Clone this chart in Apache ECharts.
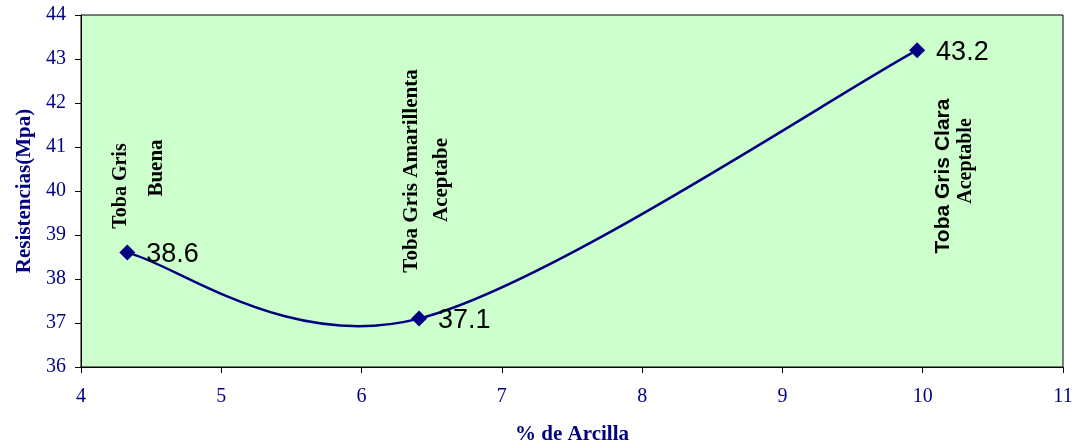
<!DOCTYPE html>
<html>
<head>
<meta charset="utf-8">
<script src="https://cdn.jsdelivr.net/npm/echarts@6/dist/echarts.min.js"></script>
<style>
  html, body { margin: 0; padding: 0; background: #fff; }
  #chart { width: 1074px; height: 446px; }
</style>
</head>
<body>
<div id="chart"></div>
<script>
// Clay content (%) and measured strength (MPa) for each tuff sample
const clayPct = [4.33, 6.41, 9.96];
const strength = [38.6, 37.1, 43.2];
const xTicks = [4, 5, 6, 7, 8, 9, 10, 11];
const yTicks = [36, 37, 38, 39, 40, 41, 42, 43, 44];

const NAVY = '#000080';
const SERIF = '"Liberation Serif", "Times New Roman", serif';
const SANS = '"Liberation Sans", Arial, sans-serif';

const points = clayPct.map((x, i) => [x, strength[i]]);

// Smoothed connecting curve: cubic Bezier segments whose control points
// follow the Catmull-Rom rule (neighbour difference / 6), end points repeated.
function renderCurve(params, api) {
  const i = params.dataIndex;
  const n = points.length;
  if (i >= n - 1) return null;
  const P = k => api.coord(points[Math.max(0, Math.min(n - 1, k))]);
  const p0 = P(i - 1), p1 = P(i), p2 = P(i + 1), p3 = P(i + 2);
  return {
    type: 'bezierCurve',
    shape: {
      x1: p1[0], y1: p1[1],
      cpx1: p1[0] + (p2[0] - p0[0]) / 6,
      cpy1: p1[1] + (p2[1] - p0[1]) / 6,
      cpx2: p2[0] - (p3[0] - p1[0]) / 6,
      cpy2: p2[1] - (p3[1] - p1[1]) / 6,
      x2: p2[0], y2: p2[1]
    },
    style: { stroke: NAVY, lineWidth: 2.5, fill: null }
  };
}

// Rotated sample notes written inside the plot area
function note(text, x, y, font, size) {
  return {
    type: 'text',
    x: x, y: y,
    rotation: Math.PI / 2,
    z: 10,
    style: {
      text: text,
      fill: '#000',
      font: 'bold ' + size + 'px ' + font,
      textAlign: 'center',
      textVerticalAlign: 'middle'
    }
  };
}

const chart = echarts.init(document.getElementById('chart'), null, { renderer: 'canvas' });
chart.setOption({
  animation: false,
  backgroundColor: '#ffffff',
  grid: {
    left: 81, right: 11, top: 15, bottom: 79,
    outerBoundsMode: 'none',
    containLabel: false,
    show: true,
    backgroundColor: '#CCFFCC',
    borderColor: '#000',
    borderWidth: 1
  },
  xAxis: {
    type: 'value',
    min: xTicks[0], max: xTicks[xTicks.length - 1], interval: 1,
    name: '% de Arcilla',
    nameLocation: 'middle',
    nameGap: 57,
    nameTextStyle: { color: NAVY, fontFamily: SERIF, fontWeight: 'bold', fontSize: 21 },
    axisLine: { show: true, lineStyle: { color: '#000', width: 1 } },
    axisTick: { show: true, length: 6, lineStyle: { color: '#000' } },
    axisLabel: { color: NAVY, fontFamily: SERIF, fontSize: 20, margin: 20 },
    splitLine: { show: false }
  },
  yAxis: {
    type: 'value',
    min: yTicks[0], max: yTicks[yTicks.length - 1], interval: 1,
    name: 'Resistencias(Mpa)',
    nameLocation: 'middle',
    nameGap: 46,
    nameTextStyle: { color: NAVY, fontFamily: SERIF, fontWeight: 'bold', fontSize: 21 },
    axisLine: { show: true, lineStyle: { color: '#000', width: 1 } },
    axisTick: { show: true, length: 6, lineStyle: { color: '#000' } },
    axisLabel: { color: NAVY, fontFamily: SERIF, fontSize: 20, margin: 15 },
    splitLine: { show: false }
  },
  series: [
    {
      type: 'custom',
      name: 'curve',
      data: points,
      renderItem: renderCurve,
      z: 2,
      silent: true
    },
    {
      type: 'scatter',
      name: 'Resistencia',
      data: points,
      symbol: 'diamond',
      symbolSize: 16,
      itemStyle: { color: NAVY, opacity: 1 },
      z: 3,
      label: {
        show: true,
        position: 'right',
        distance: 11,
        offset: [0, 2],
        color: '#000',
        fontFamily: SANS,
        fontSize: 27,
        formatter: p => p.value[1].toFixed(1)
      }
    }
  ],
  graphic: [
    note('Toba Gris', 121, 186, SERIF, 20),
    note('Buena', 157, 168, SERIF, 21),
    note('Toba Gris Amarillenta', 412, 171, SERIF, 21),
    note('Aceptabe', 442, 180, SERIF, 21),
    note('Toba Gris Clara', 943, 176, SANS, 21),
    note('Aceptable', 966, 161, SERIF, 20)
  ]
});
</script>
</body>
</html>
